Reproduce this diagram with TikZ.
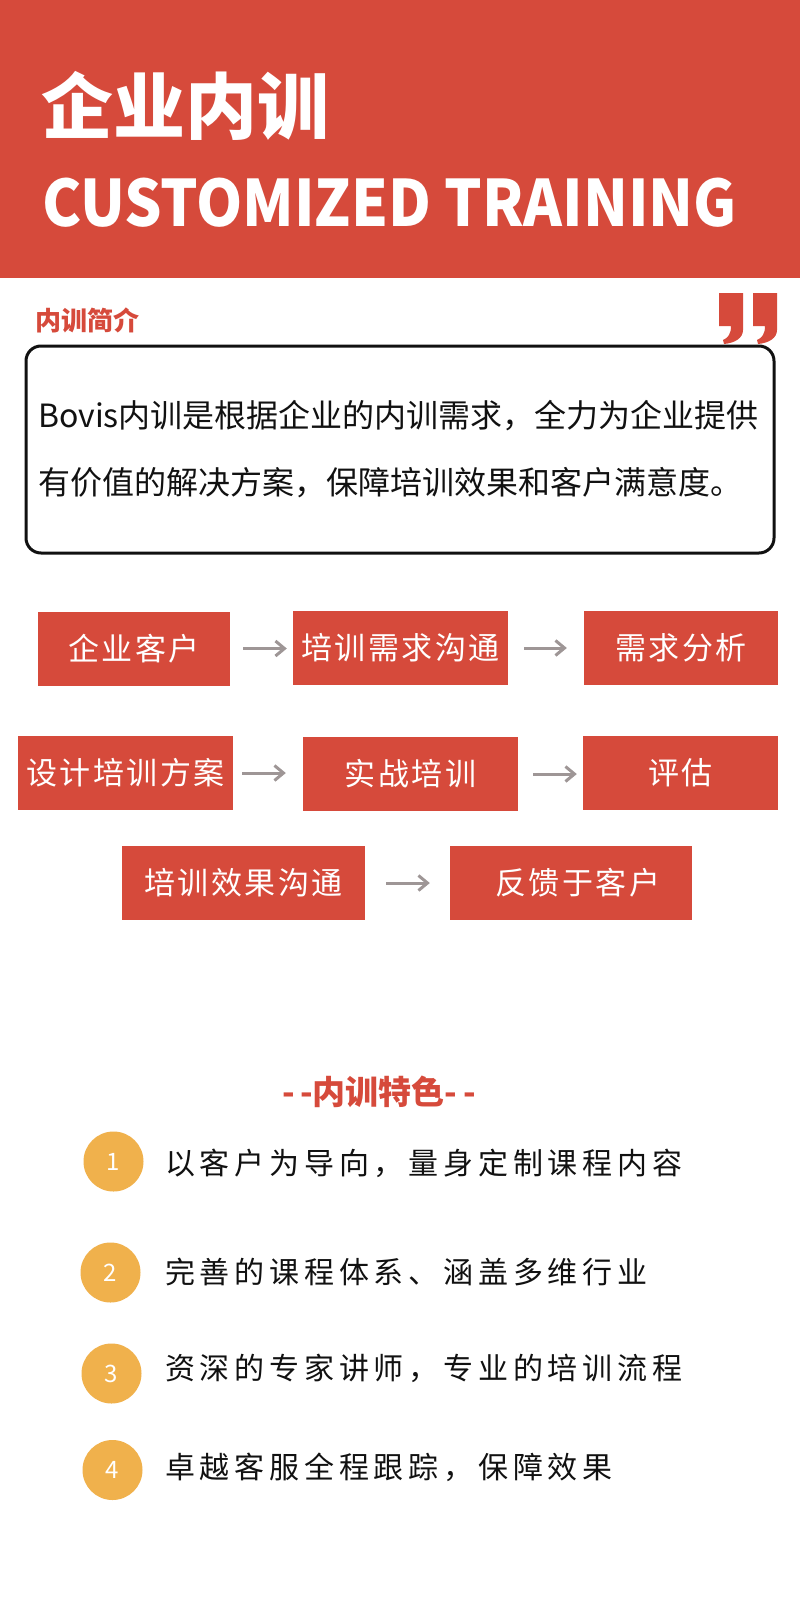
\documentclass[tikz,border=0pt]{standalone}
\usepackage{fontspec}
\usetikzlibrary{arrows.meta}
\setmainfont{Noto Sans CJK SC}
\newfontfamily\itemfont[LetterSpace=16]{Noto Sans CJK SC}
\newfontfamily\boxfont[LetterSpace=8]{Noto Sans CJK SC}
\definecolor{brand}{RGB}{214,74,59}
\definecolor{arrowgray}{RGB}{158,150,150}
\definecolor{badge}{RGB}{240,177,76}
\definecolor{ink}{RGB}{17,17,17}
\tikzset{
  flowbox/.style={fill=brand, text=white, inner sep=0pt, minimum height=74pt,
    font=\boxfont\fontsize{31}{36}\selectfont},
  flowarrow/.style={draw=arrowgray, line width=3pt, -{Straight Barb[length=9pt,width=15pt]}},
  badgenode/.style={circle, fill=badge, text=white, minimum size=60pt, inner sep=0pt,
    font=\fontsize{24}{28}\selectfont},
  itemtext/.style={anchor=west, inner sep=0pt, text=ink, font=\itemfont\fontsize{30}{36}\selectfont},
  introtext/.style={anchor=west, inner sep=0pt, text=ink, font=\fontsize{32}{36}\selectfont},
}
\begin{document}
\begin{tikzpicture}[x=1pt,y=-1pt]
\useasboundingbox (0,0) rectangle (800,1613);
\fill[white] (0,0) rectangle (800,1613);
% header
\fill[brand] (0,0) rectangle (800,278);
\node[anchor=west, inner sep=0pt, text=white, font=\bfseries\fontsize{72}{80}\selectfont] (title) at (41,106) {企业内训};
\node[anchor=base west, inner sep=0pt, text=white, font=\bfseries\fontsize{64}{70}\selectfont] (subtitle) at (42,227) {\scalebox{0.92}[1]{CUSTOMIZED TRAINING}};
% intro
\node[anchor=west, inner sep=0pt, text=brand, font=\bfseries\fontsize{26}{30}\selectfont] (introhead) at (35,320) {内训简介};
\foreach \qx in {719,753}{
  \begin{scope}[shift={(\qx,293)}]
    \fill[brand] (0,0) -- (24,0) -- (24,37) .. controls (24,45) and (16,50) .. (5,51)
      -- (4,47) .. controls (9,45) and (12,41) .. (12,33) -- (0,33) -- cycle;
  \end{scope}
}
\node[draw=ink, line width=3pt, rounded corners=15pt, minimum width=748pt, minimum height=207pt] (intro) at (400,449.5) {};
\node[introtext] (introl1) at (38,416) {Bovis内训是根据企业的内训需求，全力为企业提供};
\node[introtext] (introl2) at (38,483) {有价值的解决方案，保障培训效果和客户满意度。};
% flow
\node[flowbox, minimum width=192pt] (b1) at (134,648.5) {企业客户};
\node[flowbox, minimum width=215pt] (b2) at (400.5,648) {培训需求沟通};
\node[flowbox, minimum width=194pt] (b3) at (681,648) {需求分析};
\node[flowbox, minimum width=215pt] (b4) at (125.5,773) {设计培训方案};
\node[flowbox, minimum width=215pt] (b5) at (410.5,774) {实战培训};
\node[flowbox, minimum width=195pt] (b6) at (680.5,773) {评估};
\node[flowbox, minimum width=243pt] (b7) at (243.5,883) {培训效果沟通};
\node[flowbox, minimum width=242pt] (b8) at (571,883) {\hspace*{14pt}反馈于客户};
\draw[flowarrow, shorten <=13pt, shorten >=6pt] (b1.east) -- (b1.east -| b2.west);
\draw[flowarrow, shorten <=16pt, shorten >=17pt] (b2.east) -- (b2.east -| b3.west);
\draw[flowarrow, shorten <=9pt, shorten >=17pt] (b4.east) -- (b4.east -| b5.west);
\draw[flowarrow, shorten <=15pt, shorten >=6pt] (b5.east) -- (b5.east -| b6.west);
\draw[flowarrow, shorten <=21pt, shorten >=20pt] (b7.east) -- (b7.east -| b8.west);
% features
\node[inner sep=0pt, text=brand, font=\bfseries\fontsize{33}{36}\selectfont] (feathead) at (379,1092) {-\,-内训特色-\,-};
\node[badgenode] (n1) at (113.5,1161.5) {1};
\node[badgenode] (n2) at (110.5,1272.5) {2};
\node[badgenode] (n3) at (111.5,1373.5) {3};
\node[badgenode] (n4) at (112.5,1470) {4};
\node[itemtext] (t1) at (165,1163) {以客户为导向，量身定制课程内容};
\node[itemtext] (t2) at (165,1272) {完善的课程体系、涵盖多维行业};
\node[itemtext] (t3) at (165,1368) {资深的专家讲师，专业的培训流程};
\node[itemtext] (t4) at (165,1467) {卓越客服全程跟踪，保障效果};
\end{tikzpicture}
\end{document}
